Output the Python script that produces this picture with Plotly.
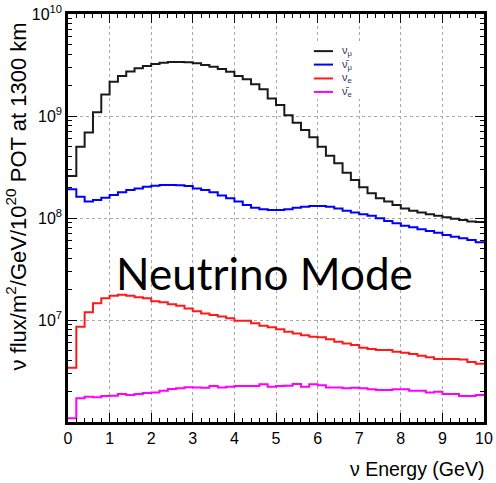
import numpy as np
import plotly.graph_objects as go

# Flux histograms: 50 bins of 0.2 GeV from 0 to 10 GeV
bin_width = 0.2
n_bins = 50
bin_edges = np.arange(n_bins + 1) * bin_width

numu = [2.58e8, 5.0e8, 6.9e8, 1.09e9, 1.63e9, 2.17e9, 2.47e9, 2.74e9, 2.94e9, 3.09e9,
        3.24e9, 3.33e9, 3.38e9, 3.38e9, 3.36e9, 3.29e9, 3.16e9, 3.04e9, 2.89e9, 2.72e9,
        2.47e9, 2.29e9, 2.05e9, 1.83e9, 1.49e9, 1.28e9, 1.02e9, 8.6e8, 7.3e8, 6.18e8,
        5.0e8, 4.08e8, 3.44e8, 2.78e8, 2.36e8, 2.0e8, 1.75e8, 1.56e8, 1.45e8, 1.34e8,
        1.24e8, 1.18e8, 1.13e8, 1.09e8, 1.05e8, 1.02e8, 9.85e7, 9.55e7, 9.27e7, 9.14e7]

numubar = [1.91e8, 1.62e8, 1.45e8, 1.50e8, 1.58e8, 1.68e8, 1.79e8, 1.88e8, 1.95e8, 2.03e8,
           2.07e8, 2.11e8, 2.11e8, 2.09e8, 2.06e8, 1.95e8, 1.88e8, 1.79e8, 1.66e8, 1.56e8,
           1.45e8, 1.34e8, 1.26e8, 1.22e8, 1.20e8, 1.20e8, 1.22e8, 1.26e8, 1.29e8, 1.31e8,
           1.31e8, 1.29e8, 1.24e8, 1.18e8, 1.13e8, 1.09e8, 1.05e8, 9.94e7, 9.35e7, 8.87e7,
           8.41e7, 8.1e7, 7.75e7, 7.46e7, 7.18e7, 6.81e7, 6.55e7, 6.32e7, 6.08e7, 5.78e7]

nue = [3.41e6, 8.6e6, 1.19e7, 1.46e7, 1.63e7, 1.73e7, 1.77e7, 1.73e7, 1.67e7, 1.63e7,
       1.53e7, 1.49e7, 1.43e7, 1.38e7, 1.30e7, 1.22e7, 1.16e7, 1.12e7, 1.08e7, 1.04e7,
       9.84e6, 9.84e6, 9.27e6, 8.79e6, 8.47e6, 8.1e6, 7.68e6, 7.39e6, 7.07e6, 6.86e6,
       6.77e6, 6.47e6, 6.13e6, 5.9e6, 5.69e6, 5.35e6, 5.2e6, 5.08e6, 5.08e6, 4.89e6,
       4.77e6, 4.64e6, 4.47e6, 4.31e6, 4.15e6, 4.15e6, 4.15e6, 4.1e6, 3.87e6, 3.73e6]

nuebar = [1.09e6, 1.71e6, 1.77e6, 1.75e6, 1.80e6, 1.81e6, 1.88e6, 1.84e6, 1.88e6, 1.92e6,
          1.95e6, 2.03e6, 2.11e6, 2.14e6, 2.19e6, 2.18e6, 2.17e6, 2.25e6, 2.18e6, 2.22e6,
          2.25e6, 2.25e6, 2.25e6, 2.34e6, 2.22e6, 2.25e6, 2.27e6, 2.36e6, 2.22e6, 2.34e6,
          2.29e6, 2.18e6, 2.18e6, 2.14e6, 2.17e6, 2.14e6, 2.09e6, 2.06e6, 2.06e6, 2.10e6,
          2.09e6, 2.03e6, 2.03e6, 1.95e6, 1.98e6, 1.88e6, 1.88e6, 1.80e6, 1.80e6, 1.84e6]

series = [
    ("ν<sub>μ</sub>", numu, "#1a1a1a"),
    ("ν̄<sub>μ</sub>", numubar, "#0000ff"),
    ("ν<sub>e</sub>", nue, "#ff1a1a"),
    ("ν̄<sub>e</sub>", nuebar, "#ff00ff"),
]

y_tickvals = [1e7, 1e8, 1e9, 1e10]
y_ticktext = ["10<sup>7</sup>", "10<sup>8</sup>", "10<sup>9</sup>", "10<sup>10</sup>"]

FONT = "Liberation Sans, Arial, sans-serif"

fig = go.Figure()
for name, vals, color in series:
    # step outline: repeat the last bin value at the right edge
    fig.add_trace(go.Scatter(
        x=bin_edges, y=list(vals) + [vals[-1]],
        mode="lines", line=dict(shape="hv", color=color, width=2),
        name=name, showlegend=False, hoverinfo="skip",
    ))

axis_common = dict(
    showline=True, linecolor="black", linewidth=2.5, mirror="allticks",
    ticks="inside", tickcolor="black", tickwidth=1,
    showgrid=True, gridcolor="#a8a8a8", griddash="dot", gridwidth=1,
    zeroline=False, automargin=False,
    tickfont=dict(family=FONT, size=16, color="black"),
)

fig.update_xaxes(
    **axis_common, range=[0, 10], dtick=1, tick0=0, ticklen=9,
    minor=dict(ticks="inside", dtick=0.2, ticklen=4.5, tickcolor="black", showgrid=False),
)
fig.update_yaxes(
    **axis_common, type="log", range=[6, 10.0005],
    tickmode="array", tickvals=y_tickvals, ticktext=y_ticktext, ticklen=9,
    minor=dict(ticks="inside", dtick="D1", ticklen=4.5, tickcolor="black", showgrid=False),
)

annotations = [
    dict(text="ν flux/m<sup>2</sup>/GeV/10<sup>20</sup> POT at 1300 km",
         xref="paper", yref="paper", x=-0.124, y=0.985, xanchor="center", yanchor="top",
         textangle=-90, showarrow=False,
         font=dict(family=FONT, size=22, color="black")),
    dict(text="ν Energy (GeV)", xref="paper", yref="paper", x=1.005, y=-0.146,
         xanchor="right", yanchor="bottom", showarrow=False,
         font=dict(family=FONT, size=19.5, color="black")),
    dict(text="Neutrino Mode", xref="paper", yref="paper", x=0.473, y=0.365,
         xanchor="center", yanchor="middle", showarrow=False,
         font=dict(family="Lato, Open Sans, sans-serif", size=44, color="black")),
]

# legend block
shapes = [dict(type="rect", xref="paper", yref="paper", x0=0.577, x1=0.714, y0=0.792, y1=0.929,
               fillcolor="white", line=dict(width=0), layer="above")]
legend_rows = [0.909, 0.876, 0.842, 0.809]
for (name, vals, color), yy in zip(series, legend_rows):
    shapes.append(dict(type="line", xref="paper", yref="paper", x0=0.591, x1=0.637, y0=yy, y1=yy,
                       line=dict(color=color, width=2), layer="above"))
    annotations.append(dict(text=name, xref="paper", yref="paper", x=0.655, y=yy,
                            xanchor="left", yanchor="middle", showarrow=False,
                            font=dict(family=FONT, size=11, color="#333355")))

fig.update_layout(
    width=496, height=483,
    margin=dict(l=68, r=12, t=14, b=61),
    paper_bgcolor="white", plot_bgcolor="white",
    showlegend=False,
    annotations=annotations, shapes=shapes,
)

fig.write_html("out.html")
